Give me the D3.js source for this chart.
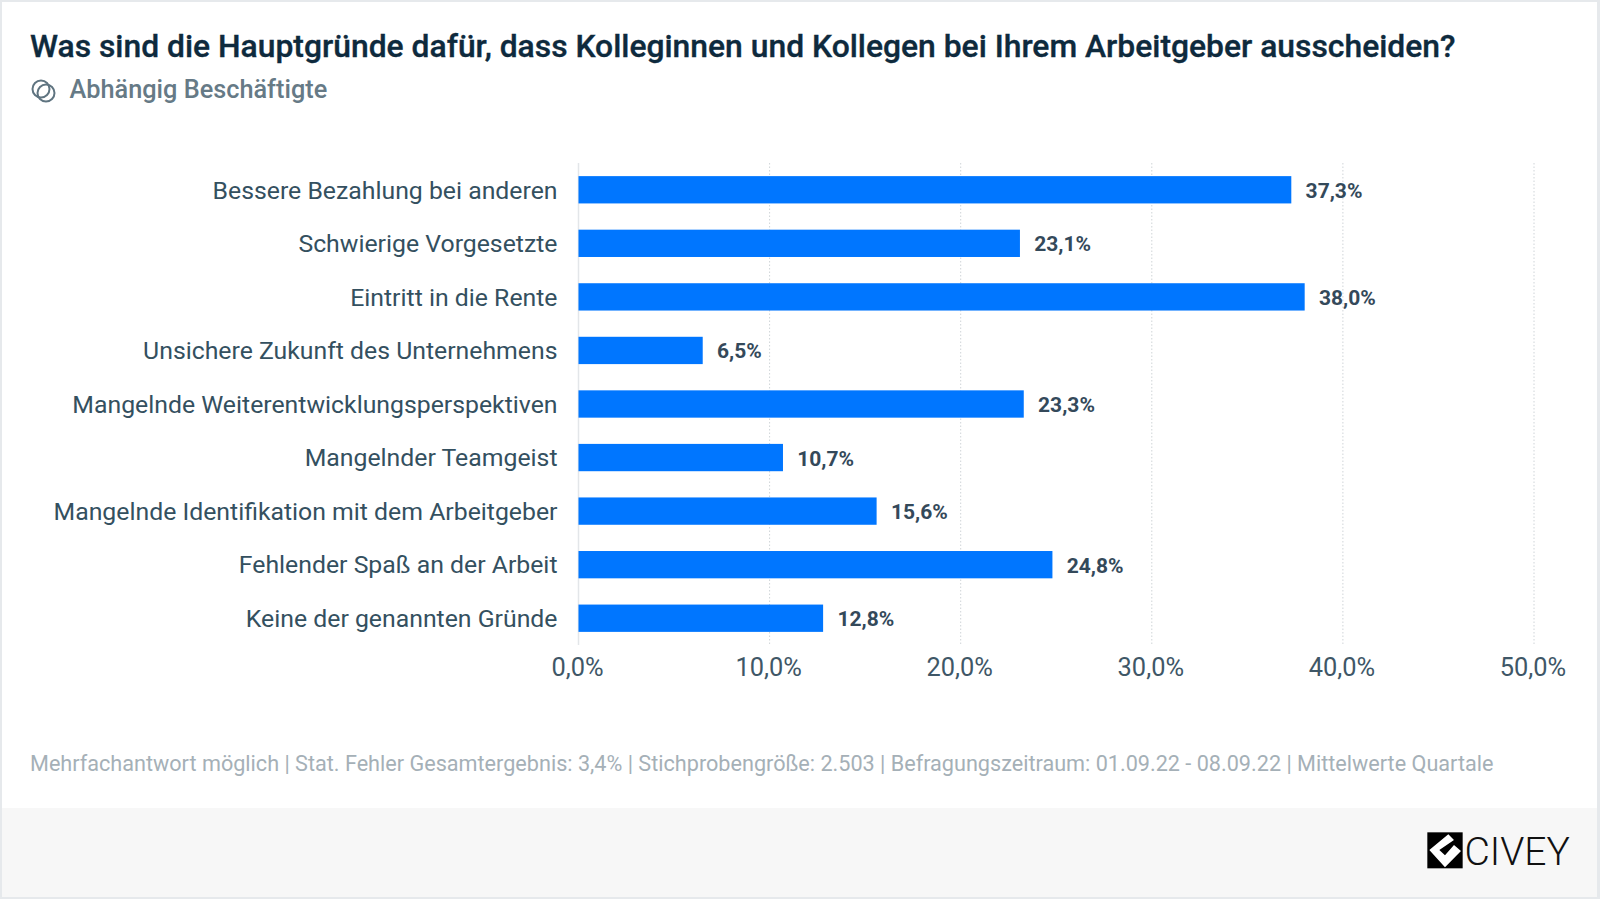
<!DOCTYPE html>
<html><head><meta charset="utf-8">
<script src="https://cdn.jsdelivr.net/npm/d3@7"></script>
<style>html,body{margin:0;padding:0;background:#fff}svg{display:block}text{font-family:Roboto,sans-serif}</style>
</head><body><div id="c"></div>
<script>
const categories=["Bessere Bezahlung bei anderen","Schwierige Vorgesetzte","Eintritt in die Rente","Unsichere Zukunft des Unternehmens","Mangelnde Weiterentwicklungsperspektiven","Mangelnder Teamgeist","Mangelnde Identifikation mit dem Arbeitgeber","Fehlender Spaß an der Arbeit","Keine der genannten Gründe"];
const values=[37.3,23.1,38.0,6.5,23.3,10.7,15.6,24.8,12.8];
const ticks=[0,10,20,30,40,50];
const title="Was sind die Hauptgründe dafür, dass Kolleginnen und Kollegen bei Ihrem Arbeitgeber ausscheiden?";
const subtitle="Abhängig Beschäftigte";
const note="Mehrfachantwort möglich | Stat. Fehler Gesamtergebnis: 3,4% | Stichprobengröße: 2.503 | Befragungszeitraum: 01.09.22 - 08.09.22 | Mittelwerte Quartale";
const fmt=v=>v.toFixed(1).replace(".",",")+"%";
const svg=d3.select("#c").append("svg").attr("width",1600).attr("height",899);
svg.append("rect").attr("width",1600).attr("height",899).attr("fill","#e6e9ec");
svg.append("rect").attr("x",2).attr("y",2).attr("width",1595).attr("height",895).attr("fill","#fff");
svg.append("rect").attr("x",2).attr("y",808).attr("width",1595).attr("height",89).attr("fill","#f7f7f7");
const x=d3.scaleLinear().domain([0,50]).range([578.5,1534]);
const y=d3.scaleBand().domain(categories).range([163,645]).paddingInner(0.49).paddingOuter(0.245);
svg.append("text").attr("x",30).attr("y",57).attr("font-size",31.83).attr("font-weight",500).attr("stroke","#0e2a3d").attr("stroke-width",0.35).attr("fill","#0e2a3d").text(title);
const ic=svg.append("g").attr("fill","none").attr("stroke","#5f7480").attr("stroke-width",2);
ic.append("circle").attr("cx",41).attr("cy",89).attr("r",8.5);
ic.append("circle").attr("cx",46).attr("cy",93).attr("r",8.5);
svg.append("text").attr("x",69.5).attr("y",98).attr("font-size",25.3).attr("font-weight",500).attr("fill","#667a86").text(subtitle);
svg.append("g").selectAll("line").data(ticks).join("line")
 .attr("x1",d=>x(d)).attr("x2",d=>x(d)).attr("y1",163).attr("y2",645)
 .attr("stroke",d=>d===0?"#e3e6e9":"#cfd4d8").attr("stroke-width",d=>d===0?1.5:1).attr("stroke-dasharray",d=>d===0?null:"1.5 2");
const ax=svg.append("g").attr("transform","translate(0,645)").call(d3.axisBottom(x).tickValues(ticks).tickFormat(fmt).tickSize(0).tickPadding(0));
ax.select(".domain").remove();
ax.selectAll("text").attr("y",0).attr("dy",0).attr("transform","translate(-1.5,31)").attr("font-size",25.4).attr("font-family","Roboto").attr("fill","#3f5767");
svg.append("g").selectAll("rect").data(values).join("rect")
 .attr("x",x(0)).attr("y",(d,i)=>y(categories[i])).attr("width",d=>x(d)-x(0)).attr("height",y.bandwidth()).attr("fill","#0076ff");
svg.append("g").selectAll("text").data(categories).join("text")
 .attr("x",557.5).attr("y",d=>y(d)+y.bandwidth()/2+8.8).attr("text-anchor","end").attr("font-size",24.8).attr("fill","#34505f").text(d=>d);
svg.append("g").selectAll("text").data(values).join("text")
 .attr("x",d=>x(d)+14.3).attr("y",(d,i)=>y(categories[i])+y.bandwidth()/2+8).attr("font-size",21).attr("font-weight",700).attr("fill","#34495a").text(fmt);
svg.append("text").attr("x",30).attr("y",771).attr("font-size",21.63).attr("fill","#a5b0b7").text(note);
const logo=svg.append("g").attr("transform","translate(1380,790) scale(0.3333)");
logo.append("rect").attr("x",142).attr("y",127).attr("width",106).attr("height",108).attr("fill","#000");
logo.append("path").attr("d","M205 133 L148 180 L195 232 L243 183 L222 165 L195 196 L178 180 L222 150Z").attr("fill","#fff");
svg.append("text").attr("x",1464.5).attr("y",865).attr("font-size",39).attr("font-family","Lato").attr("font-weight",300).attr("fill","#111").text("CIVEY");
</script></body></html>
